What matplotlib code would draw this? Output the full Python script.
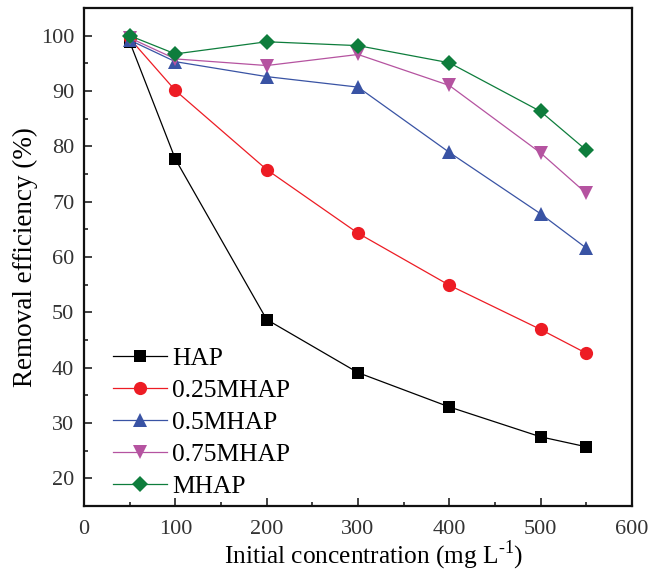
import matplotlib
matplotlib.use("Agg")
import matplotlib.pyplot as plt
from matplotlib.ticker import MultipleLocator

plt.rcParams['font.family'] = ['Liberation Serif', 'DejaVu Serif']
plt.rcParams['mathtext.fontset'] = 'custom'
plt.rcParams['mathtext.rm'] = 'Liberation Serif'

conc = [50, 100, 200, 300, 400, 500, 550]
hap = [98.9, 77.7, 48.7, 39.1, 32.9, 27.5, 25.7]
m025 = [99.5, 90.1, 75.8, 64.3, 54.9, 46.9, 42.6]
m05 = [99.2, 95.3, 92.6, 90.7, 78.9, 67.8, 61.6]
m075 = [99.6, 95.8, 94.6, 96.6, 91.0, 78.8, 71.5]
mhap = [100.0, 96.7, 98.9, 98.2, 95.1, 86.3, 79.3]

labels = ['HAP', '0.25MHAP', '0.5MHAP', '0.75MHAP', 'MHAP']
series = [hap, m025, m05, m075, mhap]
colors = ['#000000', '#ED1C24', '#3953A4', '#B553A0', '#0E7D3C']
markers = ['s', 'o', '^', 'v', 'D']
msizes = [8.5, 9.5, 10, 10, 8.5]

fig = plt.figure(figsize=(6.62, 5.72), dpi=100)
ax = fig.add_axes([84/662, 1-506/572, 548/662, 498/572])

for y, lab, c, m, ms in zip(series, labels, colors, markers, msizes):
    ax.plot(conc, y, color=c, marker=m, markersize=ms, linewidth=0.9,
            markeredgewidth=0, label=lab)

ax.set_xlim(0, 600)
ax.set_ylim(15, 105)
ax.xaxis.set_major_locator(MultipleLocator(100))
ax.xaxis.set_minor_locator(MultipleLocator(50))
ax.yaxis.set_major_locator(MultipleLocator(10))
ax.yaxis.set_minor_locator(MultipleLocator(5))
ax.set_yticks(range(20, 101, 10))
ax.tick_params(which='both', direction='in', top=False, right=False, width=1.3,
               labelsize=16, colors='#333333', labelcolor='#333333')
ax.tick_params(which='major', length=6, pad=7)
ax.tick_params(axis='x', which='major', pad=10)
ax.tick_params(which='minor', length=3)
for s in ax.spines.values():
    s.set_linewidth(1.6)
    s.set_color('#111111')

ax.set_xlabel('Initial concentration (mg L$^{\\text{-1}}$)', fontsize=18.3, labelpad=0)
ax.xaxis.set_label_coords(0.529, -0.066)
ax.set_ylabel('Removal efficiency (%)', fontsize=19.5, labelpad=2)

ax.legend(loc='lower left', frameon=False, fontsize=18.4, handlelength=2.1,
          handletextpad=0.2, labelspacing=0.36, borderaxespad=0.0,
          bbox_to_anchor=(0.035, -0.005))

fig.savefig('out.png', dpi=100)
